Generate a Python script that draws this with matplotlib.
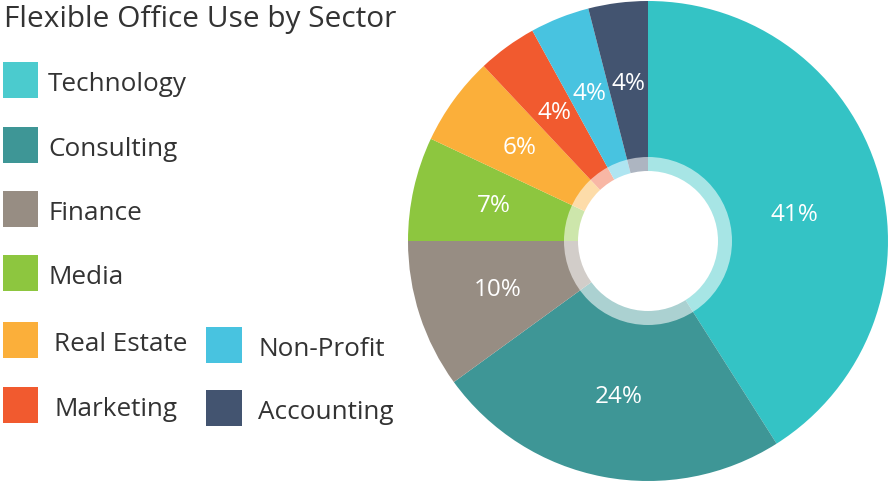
import matplotlib
matplotlib.use('Agg')
from matplotlib import pyplot as plt
from matplotlib.patches import Circle, Rectangle
import numpy as np

plt.rcParams['font.family'] = ['Open Sans', 'DejaVu Sans']

sectors = ['Technology', 'Consulting', 'Finance', 'Media', 'Real Estate',
           'Marketing', 'Non-Profit', 'Accounting']
shares = [41, 24, 10, 7, 6, 4, 4, 4]
colors = ['#34C3C5', '#3E9696', '#978D83', '#8DC63F', '#FBAF3A',
          '#F15A2F', '#48C3E0', '#435470']
legend_colors = ['#4BCBCE', '#3E9696', '#978D83', '#8DC63F', '#FBAF3A',
                 '#F15A2F', '#48C3E0', '#435470']

fig = plt.figure(figsize=(8.88, 4.82), dpi=100)
ax = fig.add_axes([0, 0, 1, 1])

cx, cy, r = 648, 241, 240
# y axis is flipped below, so start at -90 and go "counterclockwise"
wedges, texts, autotexts = ax.pie(
    shares, colors=colors, center=(cx, cy), radius=r, startangle=-90,
    counterclock=True, autopct='%d%%', pctdistance=0.66,
    wedgeprops=dict(linewidth=0), frame=True,
    textprops=dict(color='white', fontsize=17.5))
ax.set_xlim(0, 888)
ax.set_ylim(482, 0)
ax.axis('off')

# the big slice label sits a bit lower in the original
ang = np.deg2rad(10)
autotexts[0].set_position((cx + 0.62 * r * np.cos(ang), cy - 0.62 * r * np.sin(ang)))

ax.add_patch(Circle((cx, cy), 84, color='white', alpha=0.57, lw=0))
ax.add_patch(Circle((cx, cy), 70, color='white', lw=0))

ax.text(4, 27, 'Flexible Office Use by Sector', fontsize=21.5, color='#333333',
        va='baseline', ha='left')

# legend, two columns
rows_y = [80, 145, 209, 273, 340, 405]
for i, name in enumerate(sectors[:6]):
    y = rows_y[i]
    ax.add_patch(Rectangle((3, y - 18), 35, 36, color=legend_colors[i], lw=0))
    xt = 48 if i < 4 else 54
    ax.text(xt, y + 11, name, fontsize=18.8, color='#333333', va='baseline', ha='left')
for j, name in enumerate(sectors[6:]):
    y = [345, 408][j]
    ax.add_patch(Rectangle((206, y - 18), 36, 36, color=legend_colors[6 + j], lw=0))
    ax.text(258, y + 11, name, fontsize=18.8, color='#333333', va='baseline', ha='left')

fig.savefig('out.png', dpi=100)
